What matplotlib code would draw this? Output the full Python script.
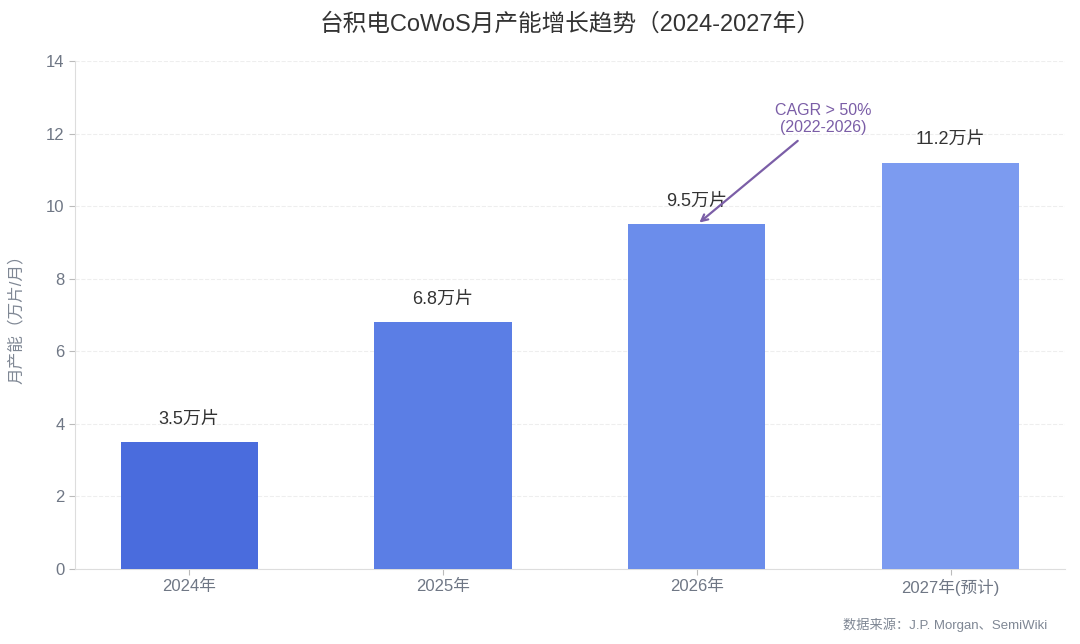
import matplotlib
matplotlib.use("Agg")
import matplotlib.pyplot as plt

plt.rcParams['font.family'] = ['Liberation Sans', 'Noto Sans CJK SC', 'DejaVu Sans']

years = ["2024年", "2025年", "2026年", "2027年(预计)"]
capacity = [3.5, 6.8, 9.5, 11.2]
labels = ["3.5万片", "6.8万片", "9.5万片", "11.2万片"]
colors = ["#4A6CDD", "#5B7EE5", "#6B8DEB", "#7C9BF0"]
yticks = [0, 2, 4, 6, 8, 10, 12, 14]

fig = plt.figure(figsize=(10.8, 6.44), dpi=100)
ax = fig.add_axes([0.0694, 0.1165, 0.9166, 0.7885])

x = list(range(len(years)))
ax.bar(x, capacity, width=0.54, color=colors, zorder=3)
for xi, v, lab in zip(x, capacity, labels):
    ax.text(xi, v + 0.4, lab, ha='center', va='bottom', fontsize=13, color='#333333', zorder=4)

ax.set_xlim(-0.45, 3.45)
ax.set_ylim(0, 14)
ax.set_yticks(yticks)
ax.set_xticks(x)
ax.set_xticklabels(years)
ax.tick_params(axis='both', colors='#BBBBBB', labelcolor='#6F7785', labelsize=12, length=4)
ax.grid(axis='y', linestyle='--', color='#EEEEEE', linewidth=0.8, zorder=0)
for s in ['top', 'right']:
    ax.spines[s].set_visible(False)
for s in ['left', 'bottom']:
    ax.spines[s].set_color('#DDDDDD')
ax.set_ylabel("月产能（万片/月）", fontsize=12, color='#7F8794', labelpad=16)
ax.set_title("台积电CoWoS月产能增长趋势（2024-2027年）", fontsize=17, color='#333333', pad=22)

ax.annotate("CAGR > 50%\n(2022-2026)", xy=(2.01, 9.55), xytext=(2.5, 12.4),
            ha='center', va='center', fontsize=11.5, color='#7B5EA7',
            arrowprops=dict(arrowstyle='->', color='#7B5EA7', lw=1.6,
                            shrinkA=3, shrinkB=0), zorder=5)

fig.text(0.970, 0.018, "数据来源：J.P. Morgan、SemiWiki", ha='right', va='bottom',
         fontsize=9.5, color='#7F8794')

fig.savefig("out.png", dpi=100, facecolor='white')
